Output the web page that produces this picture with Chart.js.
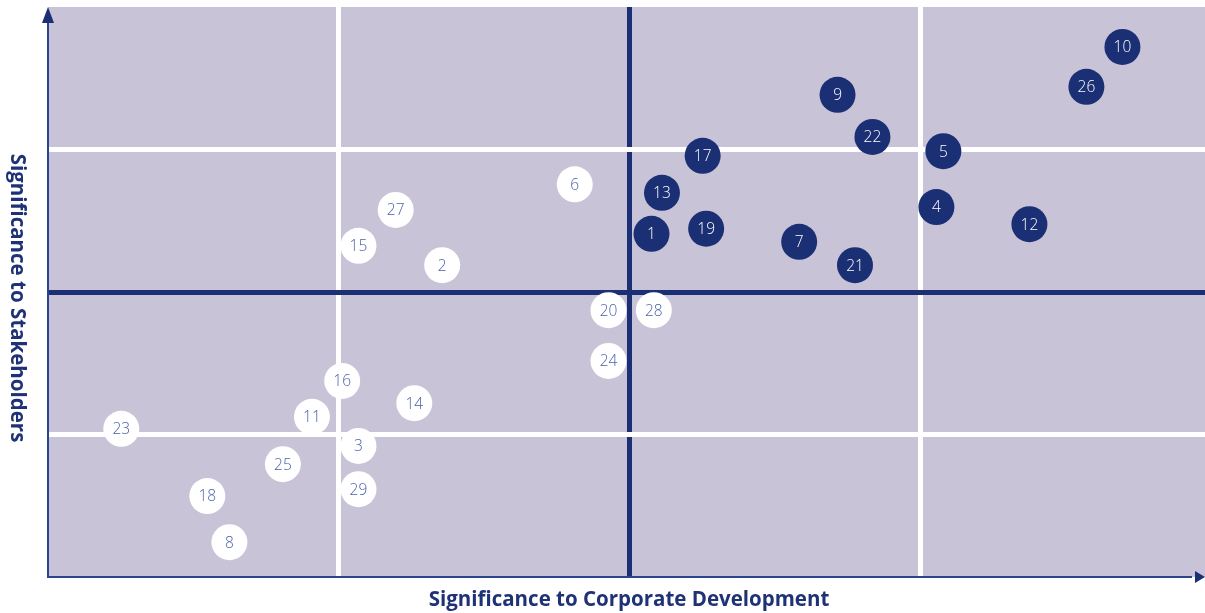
<!DOCTYPE html>
<html>
<head>
<meta charset="utf-8">
<script src="https://cdn.jsdelivr.net/npm/chart.js@4/dist/chart.umd.min.js"></script>
<style>
  html, body { margin: 0; padding: 0; background: #fff; }
  #wrap { width: 1205px; height: 613px; }
</style>
</head>
<body>
<div id="wrap"><canvas id="matrix"></canvas></div>
<script>
// 重要性マトリクスの各項目（番号・企業発展への重要性・ステークホルダーへの重要性）
const highIds = [10, 26, 9, 22, 5, 17, 13, 4, 12, 1, 19, 7, 21];
const highX   = [92.4, 89.3, 67.9, 70.9, 77.0, 56.3, 52.8, 76.4, 84.4, 51.9, 56.6, 64.6, 69.4];
const highY   = [93.0, 86.0, 84.6, 77.2, 74.7, 73.9, 67.4, 64.9, 61.9, 60.2, 61.1, 58.8, 54.7];

const lowIds = [6, 27, 15, 2, 20, 28, 24, 16, 14, 11, 23, 3, 25, 29, 18, 8];
const lowX   = [45.3, 29.9, 26.7, 33.9, 48.2, 52.1, 48.2, 25.3, 31.5, 22.7, 6.3, 26.7, 20.2, 26.7, 13.7, 15.6];
const lowY   = [68.9, 64.4, 58.1, 54.7, 46.8, 46.8, 37.9, 34.4, 30.5, 28.1, 26.0, 23.0, 19.8, 15.4, 14.2, 6.1];

const xTitle = "Significance to Corporate Development";
const yTitle = "Significance to Stakeholders";
const dividers = [25, 50, 75];

const NAVY = "#1b2f74";
const BG = "#c8c3d7";

function toPoints(xs, ys) {
  return xs.map((x, i) => ({ x: x, y: ys[i] }));
}

// 背景・軸の矢印・軸タイトル・番号ラベル
const matrixPlugin = {
  id: "matrix",
  beforeDraw(chart) {
    const { ctx, chartArea: a } = chart;
    ctx.save();
    ctx.fillStyle = BG;
    ctx.fillRect(a.left, a.top, a.right - a.left, a.bottom - a.top);
    ctx.restore();
  },
  afterDatasetsDraw(chart) {
    const { ctx, chartArea: a } = chart;
    ctx.save();
    // 番号
    ctx.font = '300 15.5px "Open Sans"';
    ctx.textAlign = "center";
    ctx.textBaseline = "middle";
    chart.data.datasets.forEach((ds, di) => {
      const meta = chart.getDatasetMeta(di);
      meta.data.forEach((pt, i) => {
        ctx.fillStyle = di === 0 ? "#ffffff" : "#4a62a8";
        ctx.fillText(String(ds.ids[i]), pt.x, pt.y + 1);
      });
    });
    // 軸線
    ctx.strokeStyle = "#2c4490";
    ctx.lineWidth = 2;
    ctx.beginPath();
    ctx.moveTo(a.left, 20);
    ctx.lineTo(a.left, a.bottom);
    ctx.lineTo(1192, a.bottom);
    ctx.stroke();
    // 矢印
    ctx.fillStyle = NAVY;
    ctx.beginPath();
    ctx.moveTo(a.left, 7);
    ctx.lineTo(a.left - 6, 23);
    ctx.lineTo(a.left + 6, 23);
    ctx.closePath();
    ctx.fill();
    ctx.beginPath();
    ctx.moveTo(1205, a.bottom);
    ctx.lineTo(1195, a.bottom - 6);
    ctx.lineTo(1195, a.bottom + 6);
    ctx.closePath();
    ctx.fill();
    // 軸タイトル
    ctx.fillStyle = "#1f3276";
    ctx.font = 'bold 20.5px "Open Sans"';
    ctx.textBaseline = "middle";
    ctx.fillText(xTitle, 629, 600);
    ctx.translate(17, 298);
    ctx.rotate(Math.PI / 2);
    ctx.fillText(yTitle, 0, 0);
    ctx.restore();
  }
};

const ctx = document.getElementById("matrix").getContext("2d");
new Chart(ctx, {
  type: "scatter",
  data: {
    datasets: [
      {
        label: "high",
        ids: highIds,
        data: toPoints(highX, highY),
        pointRadius: 18,
        pointHoverRadius: 18,
        backgroundColor: NAVY,
        borderWidth: 0
      },
      {
        label: "low",
        ids: lowIds,
        data: toPoints(lowX, lowY),
        pointRadius: 18,
        pointHoverRadius: 18,
        backgroundColor: "#ffffff",
        borderWidth: 0
      }
    ]
  },
  options: {
    responsive: true,
    maintainAspectRatio: false,
    animation: false,
    layout: { autoPadding: false, padding: { left: 48, top: 7, right: 0, bottom: 36 } },
    plugins: {
      legend: { display: false },
      tooltip: { enabled: false }
    },
    scales: {
      x: {
        type: "linear",
        min: 0,
        max: 99.5,
        afterBuildTicks: s => { s.ticks = dividers.map(v => ({ value: v })); },
        afterFit: s => { s.height = 0; },
        ticks: { display: false },
        border: { display: false },
        grid: {
          drawTicks: false,
          color: c => (c.tick && c.tick.value === 50 ? NAVY : "#ffffff"),
          lineWidth: 5
        }
      },
      y: {
        type: "linear",
        min: 0,
        max: 100,
        afterBuildTicks: s => { s.ticks = dividers.map(v => ({ value: v })); },
        afterFit: s => { s.width = 0; },
        ticks: { display: false },
        border: { display: false },
        grid: {
          drawTicks: false,
          color: c => (c.tick && c.tick.value === 50 ? NAVY : "#ffffff"),
          lineWidth: 5
        }
      }
    }
  },
  plugins: [matrixPlugin]
});
</script>
</body>
</html>
